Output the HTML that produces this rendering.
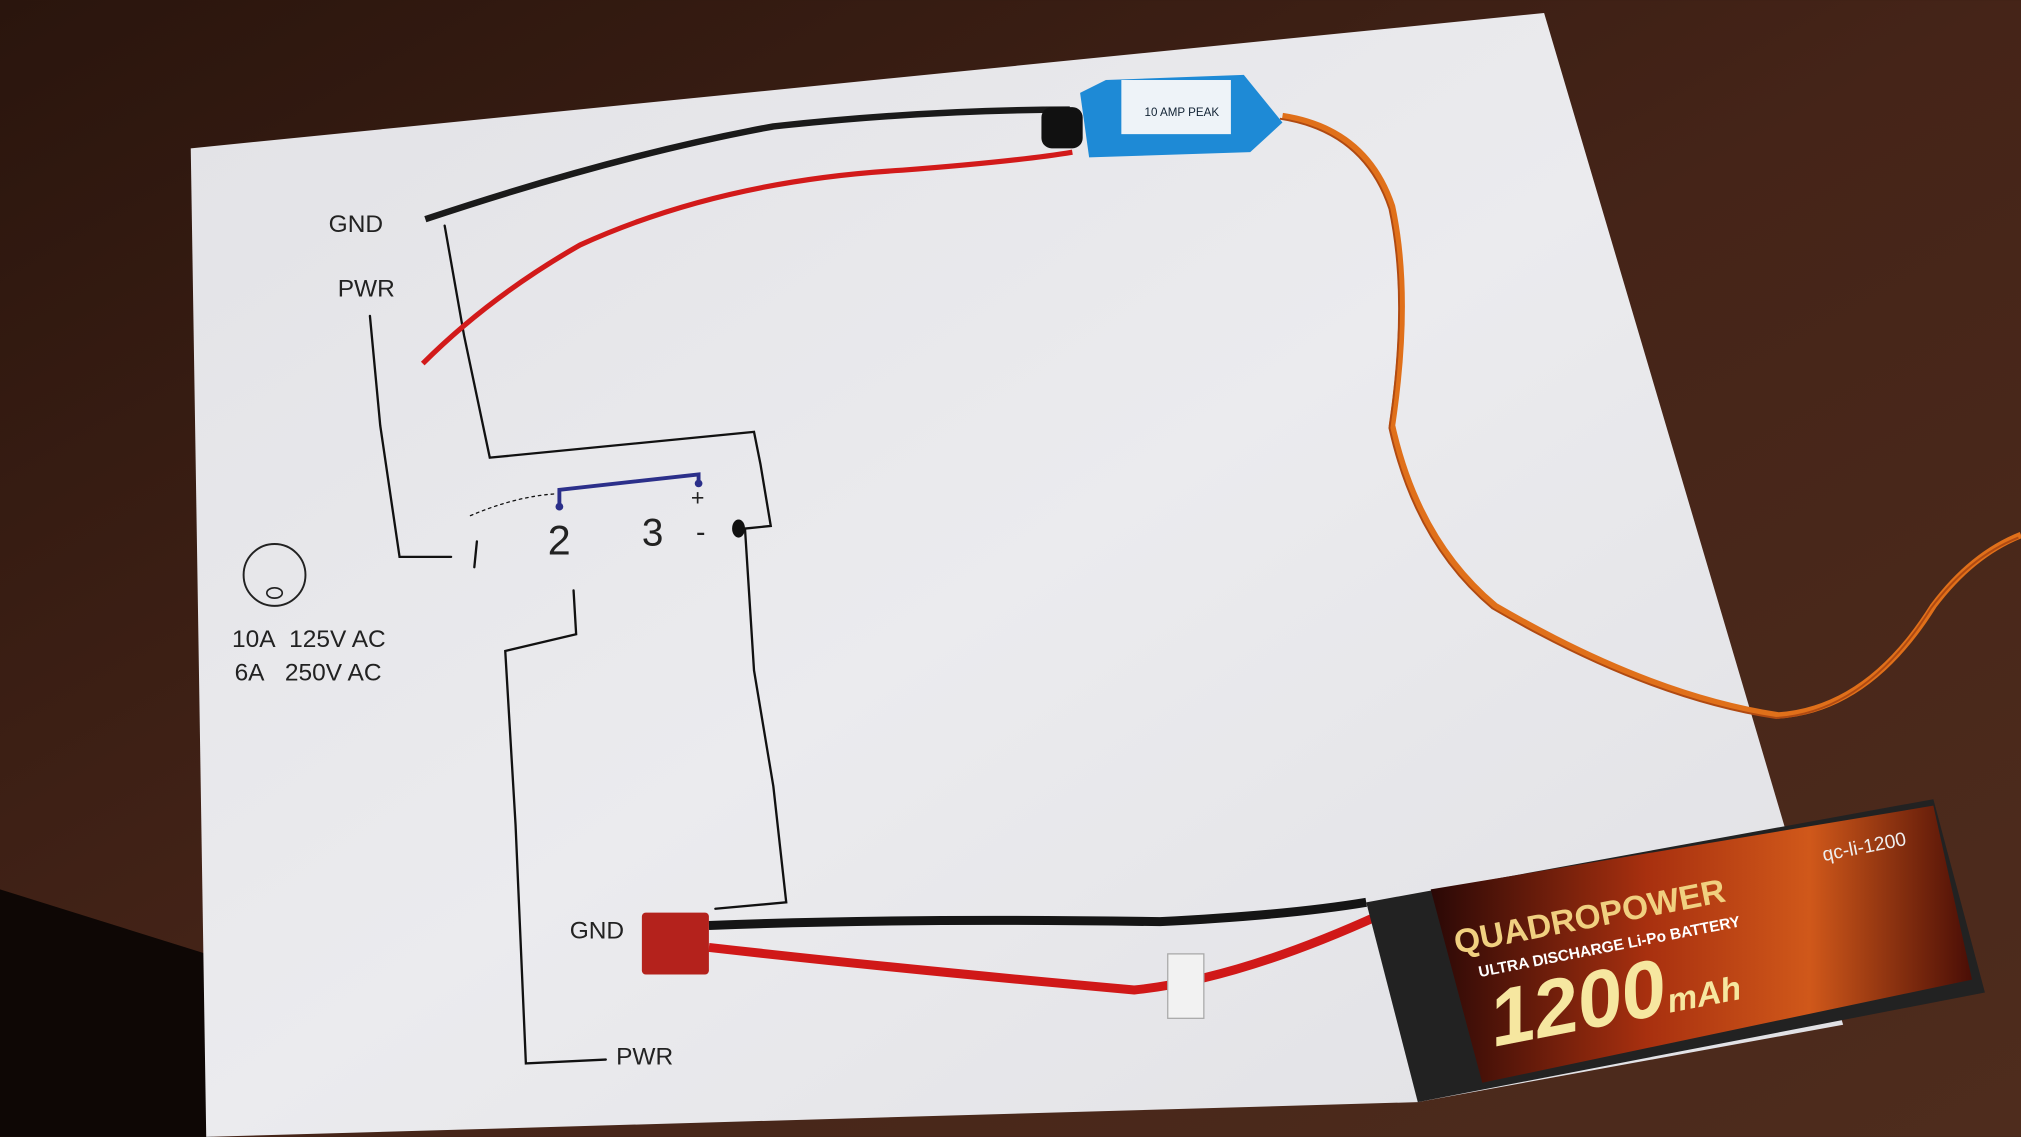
<!DOCTYPE html>
<html><head><meta charset="utf-8"><style>html,body{margin:0;padding:0;background:#2e1810}svg{display:block}</style></head><body>
<svg width="2021" height="1137" viewBox="0 0 1568 882" xmlns="http://www.w3.org/2000/svg">
<defs>
<linearGradient id="wood" x1="0" y1="0" x2="1" y2="1"><stop offset="0" stop-color="#2a150d"/><stop offset="0.5" stop-color="#452418"/><stop offset="1" stop-color="#4e2c1d"/></linearGradient>
<linearGradient id="paper" x1="0" y1="0" x2="1" y2="1"><stop offset="0" stop-color="#e2e2e6"/><stop offset="0.5" stop-color="#ebebee"/><stop offset="1" stop-color="#e0e0e4"/></linearGradient>
<linearGradient id="bat" x1="0" y1="0" x2="1" y2="0"><stop offset="0" stop-color="#2a0806"/><stop offset="0.4" stop-color="#a8300f"/><stop offset="0.7" stop-color="#d0581a"/><stop offset="1" stop-color="#4a0e06"/></linearGradient>
</defs>
<rect width="1568" height="882" fill="url(#wood)"/>
<path d="M0 690 L160 740 L165 882 L0 882Z" fill="#0e0705"/>
<polygon points="148,115 1198,10 1430,795 1100,855 160,882" fill="url(#paper)"/>
<g fill="none" stroke="#111" stroke-width="1.8" stroke-linecap="round">
<path d="M345 175 L360 260 L380 355 L585 335 L590 360 L598 408 L578 410"/>
<path d="M287 245 L295 330 L310 432 L350 432"/>
<path d="M578 410 L585 520 L600 610 L610 700 L555 705"/>
<path d="M445 458 L447 492 L392 505 L400 640 L408 825 L470 822"/>
<path d="M370 420 L368 440"/>
<path d="M365 400 Q400 385 432 383" stroke-dasharray="2 3" stroke-width="1"/>
</g>
<path d="M434 392 L434 380 L542 368 L542 375" fill="none" stroke="#2b2f8a" stroke-width="3"/>
<circle cx="434" cy="393" r="3" fill="#2b2f8a"/><circle cx="542" cy="375" r="3" fill="#2b2f8a"/>
<ellipse cx="573" cy="410" rx="5" ry="7" fill="#111"/>
<circle cx="213" cy="446" r="24" fill="none" stroke="#222" stroke-width="1.5"/>
<ellipse cx="213" cy="460" rx="6" ry="4" fill="none" stroke="#222" stroke-width="1.3"/>
<g font-family="Liberation Sans, sans-serif" fill="#222" font-size="19">
<text x="255" y="180">GND</text>
<text x="262" y="230">PWR</text>
<text x="180" y="502">10A&#160;&#160;125V AC</text>
<text x="182" y="528">6A&#160;&#160;&#160;250V AC</text>
<text x="442" y="728">GND</text>
<text x="478" y="826">PWR</text>
<text x="425" y="430" font-size="32">2</text>
<text x="498" y="423" font-size="30">3</text>
<text x="540" y="420" font-size="22">-</text>
<text x="536" y="392" font-size="18">+</text>
</g>
<path d="M330 170 Q480 120 600 98 Q720 85 830 85" fill="none" stroke="#1a1a1a" stroke-width="5"/>
<path d="M328 282 Q380 230 450 190 Q560 140 700 132 Q790 125 832 118" fill="none" stroke="#d21a1a" stroke-width="4"/>
<path d="M995 90 Q1060 100 1080 160 Q1095 230 1080 330 Q1100 420 1160 470 Q1280 540 1380 555 Q1450 550 1500 470 Q1530 430 1568 415" fill="none" stroke="#e0701a" stroke-width="5"/>
<path d="M995 90 Q1060 100 1080 160 Q1095 230 1080 330 Q1100 420 1160 470 Q1280 540 1380 555 Q1450 550 1500 470 Q1530 430 1568 415" fill="none" stroke="#b04a12" stroke-width="1.5" transform="translate(-2,2)"/>
<rect x="808" y="83" width="32" height="32" rx="8" fill="#111"/>
<polygon points="838,72 858,62 965,58 995,95 970,118 845,122" fill="#1e8ad6"/>
<rect x="870" y="62" width="85" height="42" fill="#eef3f8"/>
<text x="888" y="90" font-family="Liberation Sans, sans-serif" font-size="9" fill="#123">10 AMP PEAK</text>
<path d="M550 718 Q700 712 900 715 Q1000 710 1060 700" fill="none" stroke="#151515" stroke-width="7"/>
<path d="M550 735 Q700 752 880 768 Q960 760 1070 710" fill="none" stroke="#d01818" stroke-width="7"/>
<rect x="498" y="708" width="52" height="48" rx="3" fill="#b4221c"/>
<rect x="906" y="740" width="28" height="50" fill="#f2f2f2" stroke="#aaa"/>
<polygon points="1060,700 1500,620 1540,770 1100,855" fill="#222"/>
<polygon points="1110,690 1500,625 1530,760 1150,840" fill="url(#bat)"/>
<text x="1130" y="740" font-family="Liberation Sans, sans-serif" font-size="26" font-weight="bold" fill="#f0d080" transform="rotate(-11 1130 740)">QUADROPOWER</text>
<text x="1148" y="758" font-family="Liberation Sans, sans-serif" font-size="12" font-weight="bold" fill="#fff" transform="rotate(-11 1148 758)">ULTRA DISCHARGE Li-Po BATTERY</text>
<text x="1160" y="812" font-family="Liberation Sans, sans-serif" font-size="62" font-style="italic" font-weight="bold" fill="#f6e7a0" transform="rotate(-11 1160 812)">1200<tspan font-size="26">mAh</tspan></text>
<text x="1415" y="668" font-family="Liberation Sans, sans-serif" font-size="15" fill="#eee" transform="rotate(-11 1415 668)">qc-li-1200</text>
</svg>
</body></html>
